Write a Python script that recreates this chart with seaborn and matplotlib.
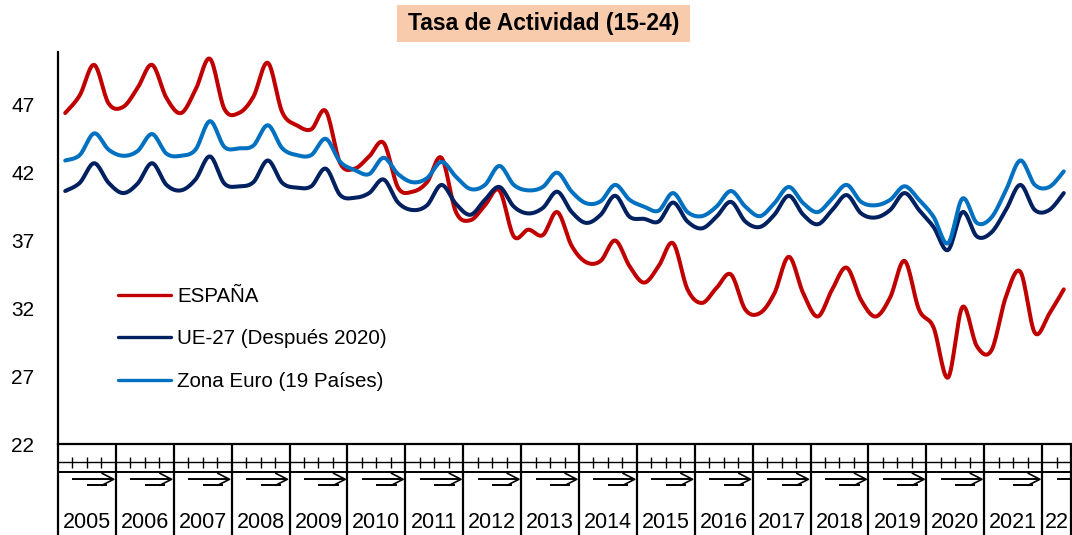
import numpy as np
import pandas as pd
import seaborn as sns
import matplotlib
matplotlib.use("Agg")
import matplotlib.pyplot as plt
from matplotlib.patches import Rectangle

# ---- data: quarterly activity rate, ages 15-24 (2005Q1 .. 2022Q2) ----
years = [str(y) for y in range(2005, 2022)] + ["22"]
quarters_per_year = [4] * 17 + [2]

series_names = ["ESPAÑA", "UE-27 (Después 2020)", "Zona Euro (19 Países)"]
series_colors = ["#C00000", "#002060", "#0070C0"]

espana = [
    46.4, 47.7, 49.95, 47.1,
    46.85, 48.25, 49.95, 47.5,
    46.4, 48.1, 50.4, 46.7,
    46.4, 47.6, 50.1, 46.45,
    45.5, 45.2, 46.55, 42.7,
    42.3, 43.2, 44.2, 40.9,
    40.6, 41.3, 43.1, 39.1,
    38.5, 39.6, 40.7, 37.3,
    37.8, 37.4, 39.1, 36.6,
    35.4, 35.5, 37.0, 35.1,
    33.9, 35.1, 36.8, 33.4,
    32.4, 33.5, 34.5, 31.9,
    31.65, 33.1, 35.8, 33.1,
    31.4, 33.4, 35.0, 32.6,
    31.4, 32.8, 35.5, 31.9,
    30.6, 26.9, 32.1, 29.2,
    28.9, 32.85, 34.7, 30.2,
    31.6, 33.4,
]

ue27 = [
    40.65, 41.25, 42.7, 41.25,
    40.5, 41.2, 42.7, 41.1,
    40.7, 41.5, 43.2, 41.2,
    41.0, 41.3, 42.9, 41.25,
    40.9, 41.0, 42.3, 40.35,
    40.15, 40.5, 41.5, 39.8,
    39.25, 39.6, 41.1, 39.7,
    38.9, 40.0, 40.95, 39.5,
    39.0, 39.4, 40.6, 39.1,
    38.3, 38.9, 40.3, 38.75,
    38.6, 38.4, 39.8, 38.4,
    37.9, 38.75, 39.85, 38.4,
    38.0, 38.9, 40.3, 38.9,
    38.2, 39.25, 40.35, 39.0,
    38.7, 39.25, 40.5, 39.25,
    38.0, 36.3, 39.1, 37.3,
    37.6, 39.25, 41.1, 39.25,
    39.25, 40.5,
]

zona_euro = [
    42.9, 43.3, 44.9, 43.7,
    43.25, 43.6, 44.85, 43.4,
    43.25, 43.7, 45.8, 43.9,
    43.8, 44.0, 45.5, 43.8,
    43.3, 43.3, 44.5, 42.8,
    42.2, 41.9, 43.1, 41.9,
    41.3, 41.6, 42.8, 41.7,
    40.8, 41.1, 42.5, 41.1,
    40.7, 40.95, 42.0, 40.6,
    39.75, 39.9, 41.1, 40.0,
    39.5, 39.2, 40.5, 39.1,
    38.8, 39.5, 40.65, 39.5,
    38.8, 39.75, 40.95, 39.75,
    39.1, 40.1, 41.1, 39.85,
    39.6, 40.0, 41.0, 40.0,
    38.75, 36.8, 40.1, 38.3,
    38.7, 40.7, 42.9, 41.1,
    40.95, 42.1,
]

y_ticks = [22, 27, 32, 37, 42, 47]
title = "Tasa de Actividad (15-24)"


def smooth_curve(x, y, steps=16):
    """Spreadsheet-style smoothed line (cubic Bezier through every point)."""
    x = np.asarray(x, float)
    y = np.asarray(y, float)
    n = len(x)
    xs, ys = [x[0]], [y[0]]
    t = np.linspace(0, 1, steps + 1)[1:]
    for i in range(n - 1):
        i0, i3 = max(i - 1, 0), min(i + 2, n - 1)
        p0 = np.array([x[i0], y[i0]])
        p1 = np.array([x[i], y[i]])
        p2 = np.array([x[i + 1], y[i + 1]])
        p3 = np.array([x[i3], y[i3]])
        c1 = p1 + (p2 - p0) / 6.0
        c2 = p2 - (p3 - p1) / 6.0
        b = ((1 - t) ** 3)[:, None] * p1 + (3 * (1 - t) ** 2 * t)[:, None] * c1 \
            + (3 * (1 - t) * t ** 2)[:, None] * c2 + (t ** 3)[:, None] * p2
        xs.extend(b[:, 0])
        ys.extend(b[:, 1])
    return np.array(xs), np.array(ys)


n_q = sum(quarters_per_year)
q_pos = np.arange(n_q) + 0.5

frames = []
for name, vals in zip(series_names, [espana, ue27, zona_euro]):
    sx, sy = smooth_curve(q_pos, vals)
    frames.append(pd.DataFrame({"t": sx, "v": sy, "serie": name}))
df = pd.concat(frames, ignore_index=True)

sns.set_theme(style="white")
plt.rcParams["font.family"] = ["Liberation Sans", "DejaVu Sans"]

W, H = 1072, 535
fig = plt.figure(figsize=(W / 100, H / 100), dpi=100)
ax = fig.add_axes([58 / W, 1 - 444 / H, (1071 - 58) / W, (444 - 52) / H])

sns.lineplot(
    data=df, x="t", y="v", hue="serie", hue_order=series_names,
    palette=dict(zip(series_names, series_colors)),
    sort=False, estimator=None, linewidth=2.9, ax=ax,
)

ax.set_xlim(0, n_q)
ax.set_ylim(22, 50.9)
ax.set_yticks(y_ticks)
ax.set_xticks([])
ax.set_xlabel("")
ax.set_ylabel("")
ax.tick_params(axis="y", length=0, pad=17, labelsize=15, colors="black")
for side in ("top", "right"):
    ax.spines[side].set_visible(False)
for side in ("left", "bottom"):
    ax.spines[side].set_color("black")
    ax.spines[side].set_linewidth(1.6)

handles, labels = ax.get_legend_handles_labels()
leg = ax.legend(
    handles, labels, loc="center left", bbox_to_anchor=(0.059, 0.268),
    frameon=False, fontsize=14.8, handlelength=2.6, handletextpad=0.3,
    labelspacing=1.14, borderpad=0, borderaxespad=0,
)
for line in leg.get_lines():
    line.set_linewidth(2.4)
for txt in leg.get_texts():
    txt.set_color("black")

# ---- two-level category axis (quarters / years) ----
xt = ax.get_xaxis_transform()
kw = dict(color="black", transform=xt, clip_on=False, solid_capstyle="butt")
bounds = np.concatenate([[0], np.cumsum(quarters_per_year)])
for b in bounds:
    ax.plot([b, b], [0, -0.235], lw=1.6, **kw)
ax.plot([0, n_q], [-0.046, -0.046], lw=1.0, **kw)
ax.plot([0, n_q], [-0.071, -0.071], lw=1.4, **kw)
for s, nq in zip(bounds[:-1], quarters_per_year):
    for k in range(1, nq):
        ax.plot([s + k, s + k], [-0.034, -0.060], lw=1.0, **kw)
    if nq == 4:
        ax.plot([s + 1.0, s + 3.75], [-0.089, -0.089], lw=1.4, **kw)
        ax.plot([s + 2.0, s + 3.4], [-0.105, -0.105], lw=1.4, **kw)
        ax.plot([s + 3.0, s + 3.85, s + 3.0], [-0.074, -0.090, -0.106], lw=1.2, **kw)
    else:
        ax.plot([s + 1.0, s + nq], [-0.089, -0.089], lw=1.4, **kw)
for s, nq, lab in zip(bounds[:-1], quarters_per_year, years):
    ax.text(s + nq / 2, -0.199, lab, ha="center", va="center",
            fontsize=15.5, color="black", transform=xt)

# ---- title box ----
fig.patches.append(Rectangle((397 / W, 1 - 42 / H), 293 / W, 37 / H,
                             transform=fig.transFigure, facecolor="#F8CBAD",
                             edgecolor="none", zorder=0))
fig.text(543.5 / W, 1 - 23.5 / H, title, ha="center", va="center",
         fontsize=16.5, fontweight="bold", color="black")

fig.savefig("out.png", dpi=100)
